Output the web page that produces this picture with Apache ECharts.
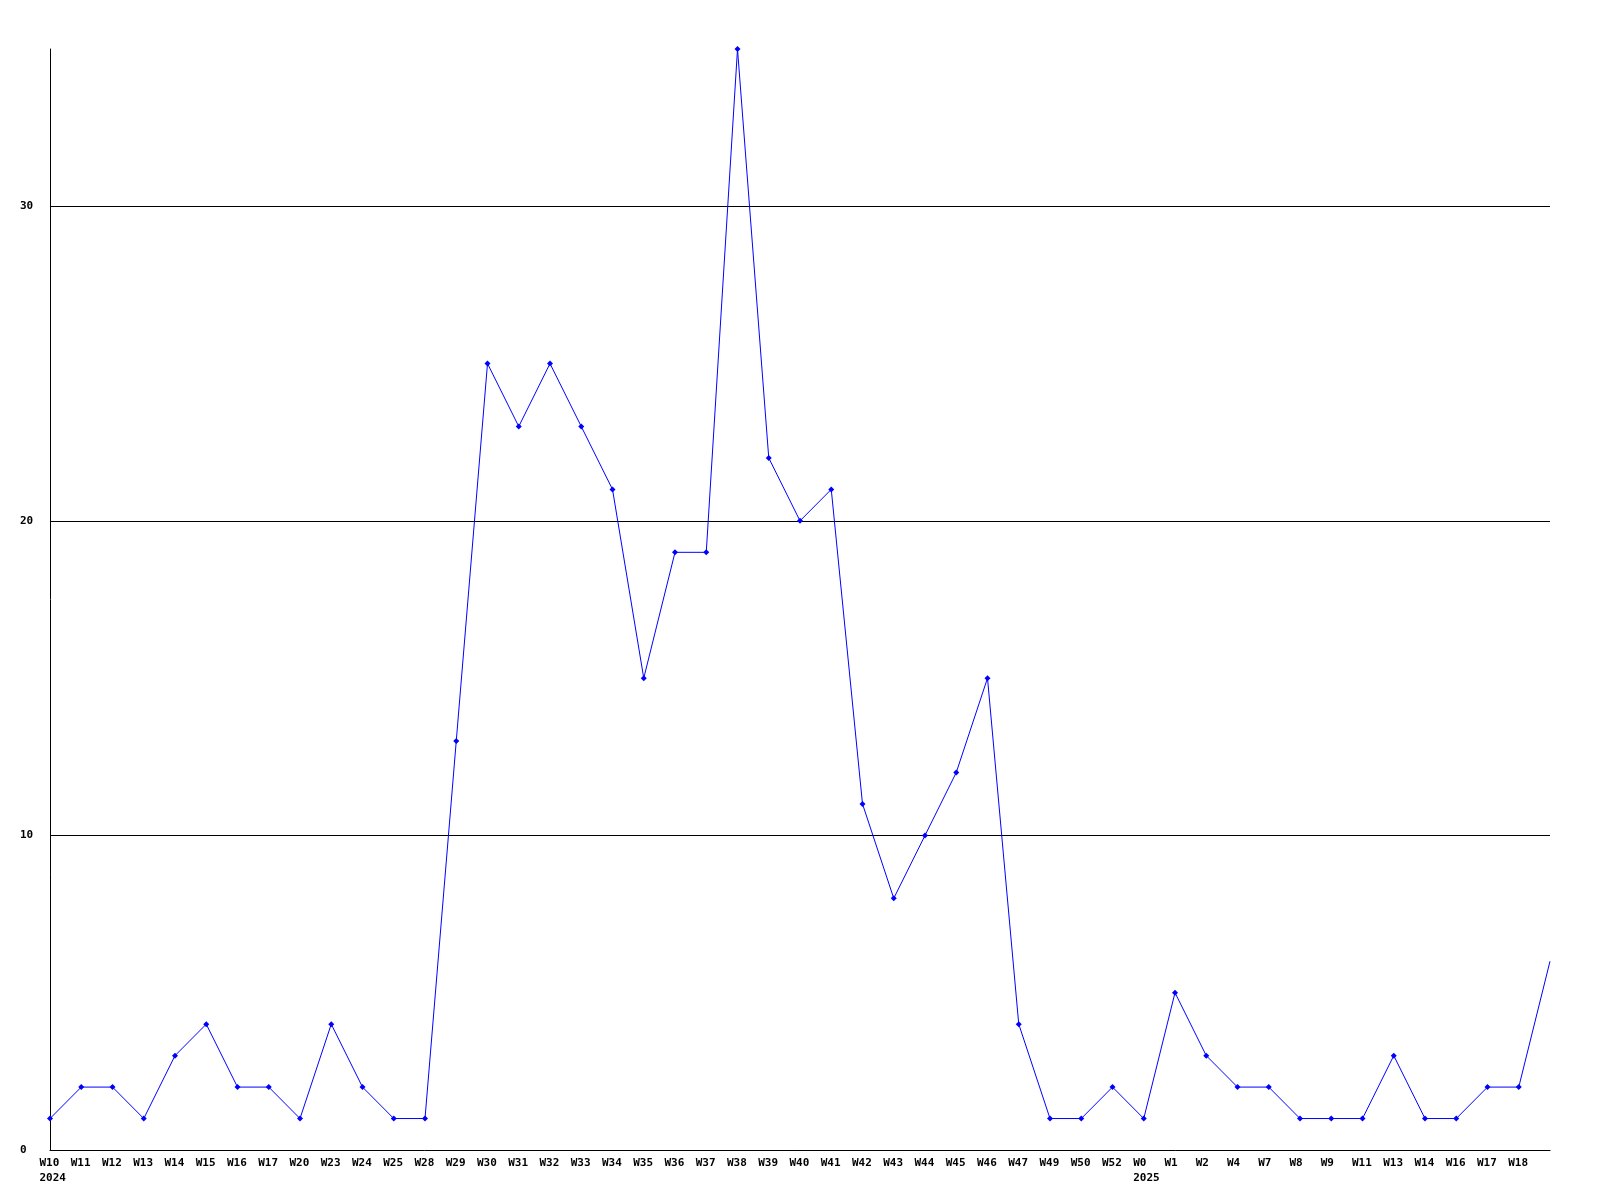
<!DOCTYPE html>
<html>
<head>
<meta charset="utf-8">
<script src="https://cdn.jsdelivr.net/npm/echarts@6/dist/echarts.min.js"></script>
<style>html,body{margin:0;padding:0;background:#fff}#c{width:1600px;height:1200px}</style>
</head>
<body>
<div id="c"></div>
<script>
const weeks = ['W10','W11','W12','W13','W14','W15','W16','W17','W20','W23','W24','W25','W28','W29','W30','W31','W32','W33','W34','W35','W36','W37','W38','W39','W40','W41','W42','W43','W44','W45','W46','W47','W49','W50','W52','W0','W1','W2','W4','W7','W8','W9','W11','W13','W14','W16','W17','W18',''];
const years = ['2024','','','','','','','','','','','','','','','','','','','','','','','','','','','','','','','','','','','2025','','','','','','','','','','','','',''];
const values = [1,2,2,1,3,4,2,2,1,4,2,1,1,13,25,23,25,23,21,15,19,19,35,22,20,21,11,8,10,12,15,4,1,1,2,1,5,3,2,2,1,1,1,3,1,1,2,2,6];
const yTicks = [0,10,20,30];

const categories = weeks.map((w, i) => 'c' + i);
const chart = echarts.init(document.getElementById('c'));
const seriesData = values.map((v, i) => i === values.length - 1 ? {value: v, symbol: 'none'} : v);
const font = {fontFamily: 'DejaVu Sans Mono', fontWeight: 'bold', fontSize: 11, color: '#000'};
chart.setOption({
  animation: false,
  backgroundColor: '#fff',
  grid: {left: 50, right: 50, top: 49, bottom: 50, containLabel: false},
  xAxis: {
    type: 'category',
    data: categories,
    boundaryGap: false,
    axisLine: {lineStyle: {color: '#000', width: 1}},
    axisTick: {show: false},
    splitLine: {show: false},
    axisLabel: Object.assign({
      interval: 0,
      margin: 6,
      lineHeight: 15,
      width: 21,
      overflow: 'none',
      formatter: (v, i) => years[i] ? '{a|' + weeks[i] + '}\n{a|' + years[i] + '}' : '{a|' + weeks[i] + '}',
      rich: {a: Object.assign({align: 'left', lineHeight: 15}, font)}
    }, font, {align: 'center', verticalAlign: 'top'})
  },
  yAxis: {
    type: 'value',
    min: 0,
    max: 35,
    interval: 10,
    axisLine: {show: true, lineStyle: {color: '#000', width: 1}},
    axisTick: {show: false},
    splitLine: {show: true, showMinLine: false, showMaxLine: false, lineStyle: {color: '#000', width: 1}},
    axisLabel: Object.assign({
      margin: 30,
      align: 'left',
      showMaxLabel: false,
      formatter: v => yTicks.includes(v) ? String(v) : ''
    }, font)
  },
  series: [{
    type: 'line',
    data: seriesData,
    symbol: 'diamond',
    symbolSize: 6,
    showAllSymbol: true,
    lineStyle: {color: '#0000ff', width: 1},
    itemStyle: {color: '#0000ff'}
  }]
});
</script>
</body>
</html>
